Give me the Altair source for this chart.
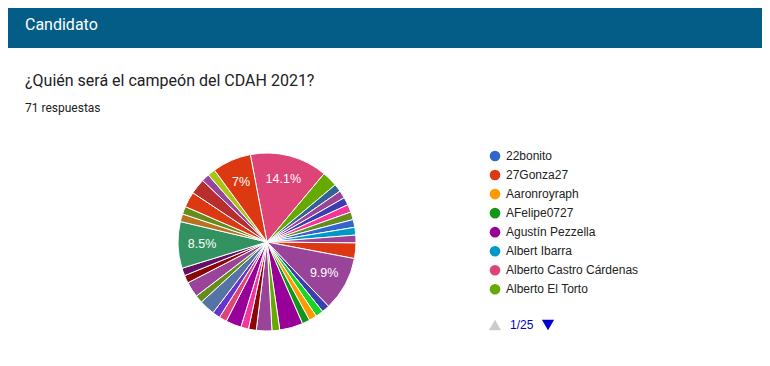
import math
import altair as alt
import pandas as pd

# ---- data ----
slice_counts = [10, 2, 1, 1, 1, 1, 1, 1, 1, 1, 2, 7, 1, 1, 1, 1, 3, 1, 2,
                1, 1, 2, 1, 1, 2, 1, 2, 1, 1, 6, 1, 1, 2, 2, 1, 1, 5]
slice_colors = ["#dd4477", "#66aa00", "#316395", "#994499", "#3b3eac", "#f4359e",
                "#668d1c", "#3366cc", "#0099c6", "#994499", "#dc3912", "#994499",
                "#3b3eac", "#16d620", "#ff9900", "#109618", "#990099", "#66aa00",
                "#994499", "#8b0707", "#f4359e", "#990099", "#dd4477", "#6633cc",
                "#5574a6", "#668d1c", "#994499", "#8b0707", "#651067", "#329262",
                "#b77322", "#668d1c", "#dc3912", "#b82e2e", "#994499", "#a9c413",
                "#dc3912"]
slice_labels = {0: "14.1%", 11: "9.9%", 29: "8.5%", 36: "7%"}

legend_names = ["22bonito", "27Gonza27", "Aaronroyraph", "AFelipe0727",
                "Agustín Pezzella", "Albert Ibarra", "Alberto Castro Cárdenas",
                "Alberto El Torto"]
legend_colors = ["#3366cc", "#dc3912", "#ff9900", "#109618", "#990099",
                 "#0099c6", "#dd4477", "#66aa00"]

header_title = "Candidato"
question = "¿Quién será el campeón del CDAH 2021?"
responses = "71 respuestas"
page_text = "1/25"

W, H = 754, 350
CX, CY, R = 259, 234, 89
start = -10.8 * math.pi / 180

pie_df = pd.DataFrame({
    "sid": [f"s{i:02d}" for i in range(len(slice_counts))],
    "count": slice_counts,
    "order": list(range(len(slice_counts))),
    "color": slice_colors,
    "label": [slice_labels.get(i, "") for i in range(len(slice_counts))],
})
leg_df = pd.DataFrame({"name": legend_names, "color": legend_colors,
                       "row": list(range(len(legend_names)))})
one = pd.DataFrame({"a": [0]})

theta_scale = alt.Scale(range=[start, start + 2 * math.pi])

header = alt.Chart(one).mark_rect(color="#045d87").encode(
    x=alt.value(0), x2=alt.value(W), y=alt.value(0), y2=alt.value(40))


def txt(s, x, y, size, color, font="Roboto", **kw):
    return alt.Chart(pd.DataFrame({"t": [s]})).mark_text(
        align="left", baseline="middle", fontSize=size, color=color, font=font, **kw
    ).encode(x=alt.value(x), y=alt.value(y), text="t:N")


t_header = txt(header_title, 17, 17, 16, "#ffffff")
t_q = txt(question, 17, 73, 16, "#202124")
t_r = txt(responses, 17, 100, 12, "#202124")

pie = alt.Chart(pie_df).mark_arc(outerRadius=R, stroke="#ffffff", strokeWidth=1).encode(
    theta=alt.Theta("count:Q", stack=True, scale=theta_scale),
    color=alt.Color("color:N", scale=None),
    detail="sid:N",
    order=alt.Order("order:Q"),
    x=alt.value(CX), y=alt.value(CY),
)
pie_lab = alt.Chart(pie_df).mark_text(
    radius=65, color="#ffffff", fontSize=12.5, font="Liberation Sans"
).encode(
    theta=alt.Theta("count:Q", stack=True, scale=theta_scale),
    detail="sid:N",
    order=alt.Order("order:Q"),
    text="label:N",
    x=alt.value(CX), y=alt.value(CY),
)

row_y = alt.Y("row:Q", scale=alt.Scale(domain=[0, 7], range=[148, 281.3]), axis=None)
leg_dots = alt.Chart(leg_df).mark_circle(size=113, opacity=1).encode(
    x=alt.value(487), y=row_y, color=alt.Color("color:N", scale=None))
leg_text = alt.Chart(leg_df).mark_text(
    align="left", baseline="middle", fontSize=12, font="Liberation Sans", color="#222222"
).encode(x=alt.value(498), y=row_y, text="name:N")

up = alt.Chart(one).mark_point(shape="triangle-up", filled=True, size=150,
                               color="#cccccc", opacity=1).encode(
    x=alt.value(487), y=alt.value(317))
down = alt.Chart(one).mark_point(shape="triangle-down", filled=True, size=150,
                                 color="#0000cc", opacity=1).encode(
    x=alt.value(540), y=alt.value(317))
t_page = txt(page_text, 502, 317, 12, "#0000cc", font="Liberation Sans")

chart = alt.layer(
    header, t_header, t_q, t_r, pie, pie_lab, leg_dots, leg_text, up, down, t_page
).properties(
    width=W, height=H, autosize=alt.AutoSizeParams(type="none"), padding=0
).configure_view(stroke=None)

chart.save("out.html", embed_options={"renderer": "svg", "actions": False})
